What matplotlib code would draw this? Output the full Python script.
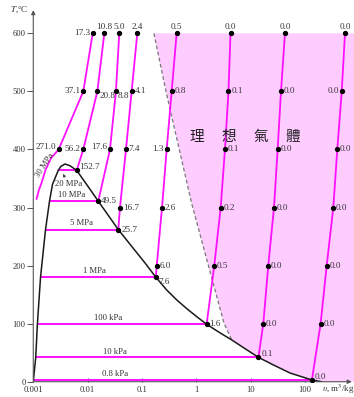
import numpy as np
import matplotlib
matplotlib.use("Agg")
import matplotlib.pyplot as plt

plt.rcParams["font.family"] = ["Liberation Serif", "DejaVu Serif"]
plt.rcParams["mathtext.fontset"] = "stix"

# Saturation dome: temperature (°C) and specific volume (m³/kg)
dome_liq_T = [0, 42, 99, 180, 262, 311, 340, 364, 371, 375]
dome_liq_v = [0.00100, 0.00111, 0.00119, 0.00136, 0.00168, 0.00199, 0.00226, 0.00288, 0.00323, 0.00383]
dome_vap_T = [372, 364, 340, 311, 262, 227, 204, 180, 158, 141, 126, 112, 99, 86, 72, 57, 42, 29, 15, 3, 0]
dome_vap_v = [0.00474, 0.00629, 0.00955, 0.0157, 0.0367, 0.0730, 0.115, 0.180, 0.285, 0.435,
              0.665, 1.02, 1.55, 2.54, 4.48, 7.87, 13.9, 26.1, 53.0, 134, 203]

# Edge of the ideal-gas region (error below 1 %)
ideal_T = [600, 500, 400, 307, 201, 101, 72]
ideal_v = [0.166, 0.277, 0.486, 0.822, 1.66, 3.23, 4.48]

# Isobars
pressures = ["30 MPa", "20 MPa", "10 MPa", "5 MPa", "1 MPa", "100 kPa", "10 kPa", "0.8 kPa"]
sat_T = [None, 364, 311, 262, 180, 99, 42, 3]
sat_v_liq = [None, 0.00288, 0.00197, 0.00169, 0.00133, 0.00118, 0.00111, 0.00100]

T_30MPa = [315, 330, 345, 365, 385, 400, 500, 600]
v_30MPa = [0.00115, 0.00127, 0.00145, 0.00168, 0.00212, 0.00293, 0.00832, 0.0124]
err_30MPa = [None, None, None, None, None, 271.0, 37.1, 17.3]

T_20MPa = [364, 400, 500, 600]
v_20MPa = [0.00629, 0.00832, 0.0151, 0.0203]
err_20MPa = [152.7, 56.2, 20.8, 10.8]

T_10MPa = [311, 400, 500, 600]
v_10MPa = [0.0157, 0.0258, 0.0332, 0.0382]
err_10MPa = [49.5, 17.6, 8.8, 5.0]

T_5MPa = [262, 300, 400, 500, 600]
v_5MPa = [0.0367, 0.0394, 0.0508, 0.0646, 0.0820]
err_5MPa = [25.7, 16.7, 7.4, 4.1, 2.4]

T_1MPa = [180, 200, 300, 400, 500, 600]
v_1MPa = [0.180, 0.187, 0.234, 0.285, 0.352, 0.435]
err_1MPa = [7.6, 6.0, 2.6, 1.3, 0.8, 0.5]

T_100kPa = [99, 200, 300, 400, 500, 600]
v_100kPa = [1.55, 2.14, 2.81, 3.37, 3.91, 4.26]
err_100kPa = [1.6, 0.5, 0.2, 0.1, 0.1, 0.0]

T_10kPa = [42, 100, 200, 300, 400, 500, 600]
v_10kPa = [13.9, 17.1, 21.1, 26.9, 31.4, 36.2, 42.8]
err_10kPa = [0.1, 0.0, 0.0, 0.0, 0.0, 0.0, 0.0]

T_08kPa = [3, 100, 200, 300, 400, 500, 600]
v_08kPa = [134, 194, 251, 332, 393, 474, 545]
err_08kPa = [0.0, 0.0, 0.0, 0.0, 0.0, 0.0, 0.0]

isobar_T = [T_30MPa, T_20MPa, T_10MPa, T_5MPa, T_1MPa, T_100kPa, T_10kPa, T_08kPa]
isobar_v = [v_30MPa, v_20MPa, v_10MPa, v_5MPa, v_1MPa, v_100kPa, v_10kPa, v_08kPa]
isobar_err = [err_30MPa, err_20MPa, err_10MPa, err_5MPa, err_1MPa, err_100kPa, err_10kPa, err_08kPa]

# where each error value sits relative to its point
label_side = [
    ["", "", "", "", "", "lt", "l", "l"],
    ["rt", "l", "rb", "t"],
    ["r", "lt", "rb", "t"],
    ["r", "r", "r", "r", "t"],
    ["rb", "r", "r", "l", "r", "t"],
    ["r", "r", "r", "r", "r", "t"],
    ["rt", "r", "r", "r", "r", "r", "t"],
    ["rt", "r", "r", "r", "r", "l", "t"],
]
side_style = {
    "l": ((-2, 0), "right", "center"),
    "lt": ((-2, 2), "right", "center"),
    "r": ((2, 0), "left", "center"),
    "rt": ((2, 2.5), "left", "center"),
    "rb": ((1.5, -3.5), "left", "center"),
    "t": ((0, 2), "center", "bottom"),
}

# pressure label positions (v, T) and rotation
plabel_pos = {
    "30 MPa": (0.00164, 373, 57),
    "20 MPa": (0.00441, 341, 0),
    "10 MPa": (0.00509, 321, 0),
    "5 MPa": (0.00778, 273, 0),
    "1 MPa": (0.0133, 191, 0),
    "100 kPa": (0.0240, 109, 0),
    "10 kPa": (0.0319, 52, 0),
    "0.8 kPa": (0.0319, 13, 0),
}

x_ticks = [0.001, 0.01, 0.1, 1, 10, 100]
x_tick_labels = ["0.001", "0.01", "0.1", "1", "10", "100"]
y_ticks = [0, 100, 200, 300, 400, 500, 600]

MAGENTA = "#ff10ff"
PINK = "#ffccff"
TXT = "#333333"
AX = "#555555"

fig = plt.figure(figsize=(3.54, 3.97), dpi=100)
ax = fig.add_axes([0.094, 0.0385, 0.906, 0.936])
ax.set_xscale("log")
x_max = 798
ax.set_xlim(0.001, x_max)
ax.set_ylim(0, 640)

# ideal-gas region
below = [(v, t) for v, t in zip(dome_vap_v, dome_vap_T) if t < ideal_T[-1]]
poly_v = ideal_v + [p[0] for p in below] + [x_max, x_max]
poly_T = ideal_T + [p[1] for p in below] + [0, 600]
ax.fill(poly_v, poly_T, color=PINK, lw=0, zorder=0)
ax.plot(ideal_v, ideal_T, color="#777777", lw=0.9, ls=(0, (3, 2)), zorder=1)

# isobars
for i, p in enumerate(pressures):
    if sat_T[i] is not None:
        ax.plot([sat_v_liq[i], isobar_v[i][0]], [sat_T[i], sat_T[i]],
                color=MAGENTA, lw=1.4, zorder=2, solid_capstyle="butt")
    ax.plot(isobar_v[i], isobar_T[i], color=MAGENTA, lw=1.3, zorder=2)
    for j, e in enumerate(isobar_err[i]):
        if e is None:
            continue
        v, t = isobar_v[i][j], isobar_T[i][j]
        ax.plot(v, t, "o", ms=2.8, color="black", zorder=4)
        off, ha, va = side_style[label_side[i][j]]
        ax.annotate(f"{e:.1f}", (v, t), xytext=off, textcoords="offset points",
                    ha=ha, va=va, fontsize=6.6, color=TXT, zorder=5)

# saturation dome
ax.plot(dome_liq_v + dome_vap_v, dome_liq_T + dome_vap_T, color="#1a1a1a", lw=1.1,
        zorder=3, solid_joinstyle="round")

# pressure labels
for p in pressures:
    v, t, rot = plabel_pos[p]
    ax.text(v, t, p, fontsize=6.2, color=TXT, ha="center", va="center", rotation=rot, zorder=5)
ax.annotate("", xy=(0.00336, 362), xytext=(0.0040, 348),
            arrowprops=dict(arrowstyle="-|>", color=TXT, lw=0.5, mutation_scale=4), zorder=5)

# region name
for ch, v in zip("理想氣體", 10 ** np.linspace(0.007, 1.774, 4)):
    ax.text(v, 422, ch, fontsize=10.5, color="#222222", ha="center", va="center",
            family=["Noto Sans CJK TC", "DejaVu Sans"], zorder=5)

# axes
for s in ax.spines.values():
    s.set_visible(False)
ax.annotate("", xy=(0, 1.0), xytext=(0, 0), xycoords="axes fraction",
            arrowprops=dict(arrowstyle="-|>", color=AX, lw=0.8, mutation_scale=6, shrinkA=0, shrinkB=0))
ax.annotate("", xy=(0.993, 0), xytext=(0, 0), xycoords="axes fraction",
            arrowprops=dict(arrowstyle="-|>", color=AX, lw=0.8, mutation_scale=6, shrinkA=0, shrinkB=0))
ax.set_xticks(x_ticks)
ax.set_xticklabels(x_tick_labels)
ax.xaxis.set_minor_locator(matplotlib.ticker.NullLocator())
ax.set_yticks(y_ticks)
ax.tick_params(axis="y", direction="out", length=4, width=0.7, color=AX, labelsize=6.2,
               labelcolor=TXT, pad=1.5)
ax.tick_params(axis="x", direction="in", length=3, width=0.7, color=AX, labelsize=6.2,
               labelcolor=TXT, pad=3)

fig.text(19 / 354, 1 - 10 / 397, r"$T$,°C", fontsize=6.5, color=TXT, ha="center", va="center")
fig.text(338 / 354, 1 - 389 / 397, r"$\upsilon$, m$^3$/kg", fontsize=6.5, color=TXT, ha="center", va="center")

fig.savefig("out.png", dpi=100)
